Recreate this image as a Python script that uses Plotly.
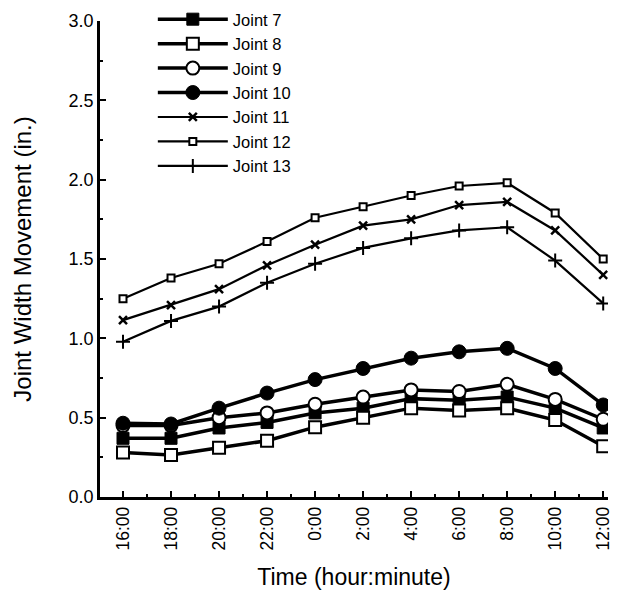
import plotly.graph_objects as go

times = ["16:00", "18:00", "20:00", "22:00", "0:00", "2:00", "4:00", "6:00", "8:00", "10:00", "12:00"]
joint7 = [0.37, 0.37, 0.435, 0.47, 0.53, 0.56, 0.62, 0.61, 0.63, 0.56, 0.435]
joint8 = [0.28, 0.265, 0.31, 0.355, 0.44, 0.50, 0.56, 0.545, 0.56, 0.485, 0.32]
joint9 = [0.45, 0.45, 0.50, 0.53, 0.585, 0.63, 0.675, 0.665, 0.71, 0.615, 0.49]
joint10 = [0.465, 0.46, 0.56, 0.655, 0.74, 0.81, 0.875, 0.915, 0.937, 0.81, 0.58]
joint11 = [1.115, 1.21, 1.31, 1.46, 1.59, 1.71, 1.75, 1.84, 1.86, 1.68, 1.40]
joint12 = [1.25, 1.38, 1.47, 1.61, 1.76, 1.83, 1.90, 1.96, 1.98, 1.79, 1.50]
joint13 = [0.978, 1.11, 1.20, 1.35, 1.47, 1.57, 1.63, 1.68, 1.70, 1.49, 1.22]

names = ["Joint 7", "Joint 8", "Joint 9", "Joint 10", "Joint 11", "Joint 12", "Joint 13"]
series = [joint7, joint8, joint9, joint10, joint11, joint12, joint13]
styles = [
    dict(symbol="square", size=12, color="black", lw=3.5, mlw=1),
    dict(symbol="square", size=12, color="white", lw=3.5, mlw=2),
    dict(symbol="circle", size=13, color="white", lw=3.5, mlw=2),
    dict(symbol="circle", size=14, color="black", lw=3.5, mlw=1),
    dict(symbol="x-thin-open", size=8, color="black", lw=2.2, mlw=2.5),
    dict(symbol="square", size=7, color="white", lw=2.2, mlw=2),
    dict(symbol="cross-thin-open", size=10, color="black", lw=2.2, mlw=2),
]

x = list(range(len(times)))
fig = go.Figure()
for name, ys, st in zip(names, series, styles):
    fig.add_trace(go.Scatter(
        x=x, y=ys, name=name, mode="lines+markers",
        line=dict(color="black", width=st["lw"]),
        marker=dict(symbol=st["symbol"], size=st["size"], color=st["color"],
                    line=dict(color="black", width=st["mlw"])),
    ))

font = "Liberation Sans, Arial, sans-serif"
fig.update_layout(
    width=630, height=602,
    margin=dict(l=100, r=22, t=21, b=105, autoexpand=False),
    plot_bgcolor="white", paper_bgcolor="white",
    font=dict(family=font, color="black", size=17),
    showlegend=True,
    legend=dict(x=0.104, y=1.04, xanchor="left", yanchor="top",
                bgcolor="rgba(0,0,0,0)", font=dict(size=16.5),
                tracegroupgap=0, itemwidth=70),
    xaxis=dict(
        range=[-0.479, 10.1], tickmode="array", tickvals=x, ticktext=times,
        tickangle=-90, showgrid=False, zeroline=False,
        showline=True, linecolor="black", linewidth=2.5,
        ticks="inside", ticklen=6, tickwidth=2, tickcolor="black",
        minor=dict(dtick=0.5, tick0=-0.5, ticks="inside", ticklen=3, tickwidth=1.5, tickcolor="black"),
        title=dict(text="Time (hour:minute)", font=dict(size=23), standoff=20),
        tickfont=dict(size=17.5),
    ),
    yaxis=dict(
        range=[0, 3.0], tickmode="array", tickvals=[0, 0.5, 1.0, 1.5, 2.0, 2.5, 3.0],
        ticktext=["0.0", "0.5", "1.0", "1.5", "2.0", "2.5", "3.0"],
        showgrid=False, zeroline=False,
        showline=True, linecolor="black", linewidth=2.5,
        ticks="inside", ticklen=6, tickwidth=2, tickcolor="black",
        minor=dict(dtick=0.25, ticks="inside", ticklen=3, tickwidth=1.5, tickcolor="black"),
        title=dict(text="Joint Width Movement (in.)", font=dict(size=24), standoff=31),
        tickfont=dict(size=18),
    ),
)

fig.write_html("out.html")
